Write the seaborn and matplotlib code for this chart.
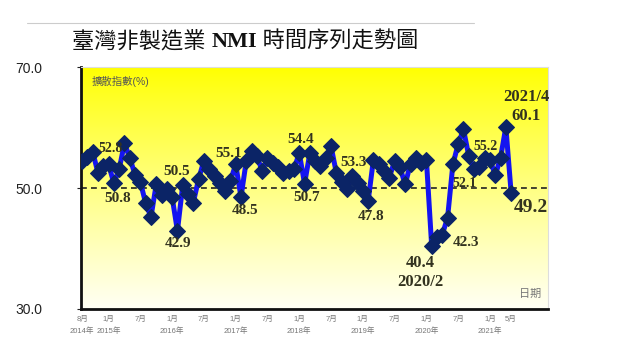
import numpy as np
import pandas as pd
import seaborn as sns
import matplotlib.pyplot as plt

# 臺灣非製造業 NMI, 2014/8 ~ 2021/5 (每月)
nmi = [54.5, 55.2, 56.0, 52.5, 53.6, 53.9, 50.8, 53.1, 57.4, 55.0,
       52.2, 51.0, 47.5, 45.2, 50.6, 48.8, 49.9, 48.5, 42.9, 50.5,
       49.0, 47.6, 51.5, 54.5, 53.2, 52.0, 50.8, 49.5, 51.2, 53.9,
       48.5, 54.5, 56.1, 55.3, 52.8, 55.0, 54.2, 53.4, 52.5, 52.8,
       53.1, 55.8, 50.7, 55.8, 54.5, 53.6, 55.0, 56.9, 52.5, 51.0,
       49.8, 52.0, 50.9, 49.5, 47.8, 54.7, 53.9, 52.8, 51.7, 54.5,
       53.4, 50.6, 54.0, 55.0, 54.2, 54.7, 40.4, 41.9, 42.3, 45.1,
       53.9, 57.3, 59.7, 55.3, 53.1, 53.5, 55.0, 54.7, 52.1, 55.0,
       60.1, 49.2]

tick_idx = [0, 5, 11, 17, 23, 29, 35, 41, 47, 53, 59, 65, 71, 77, 81]
tick_month = ['8月', '1月', '7月', '1月', '7月', '1月', '7月', '1月', '7月',
              '1月', '7月', '1月', '7月', '1月', '5月']
tick_year = ['2014年', '2015年', '', '2016年', '', '2017年', '', '2018年', '',
             '2019年', '', '2020年', '', '2021年', '']

# 標註: (月份序號, 文字, x偏移, y偏移, 字級)
notes_idx = [4, 6, 19, 18, 29, 30, 41, 42, 51, 54, 66, 66, 68, 78, 77, 80, 80, 81]
notes_txt = ['52.8', '50.8', '50.5', '42.9', '55.1', '48.5', '54.4', '50.7', '53.3',
             '47.8', '40.4', '2020/2', '42.3', '52.1', '55.2', '2021/4', '60.1', '49.2']
notes_dx = [1.4, 0.8, -1.2, 0.2, -1.4, 0.7, 0.3, 0.3, 0.2,
            0.5, -2.2, -2.2, 4.5, -5.7, -0.8, 3.8, 3.8, 3.8]
notes_dy = [3.0, -2.5, 2.3, -2.0, 1.8, -2.2, 2.2, -2.2, 2.3,
            -2.5, -2.8, -6.0, -1.3, -1.3, 2.2, 5.0, 1.8, -2.5]
notes_fs = [10, 11, 11, 11, 11, 11, 11, 11, 11,
            11, 12, 12, 11, 10, 10, 12, 12, 14]

df = pd.DataFrame({'idx': np.arange(len(nmi)), 'nmi': nmi})

sns.set_style('white')
plt.rcParams['font.family'] = ['Liberation Sans', 'Noto Sans CJK TC']

fig = plt.figure(figsize=(6.4, 3.6), dpi=100)
fig.patch.set_facecolor('white')
ax = fig.add_axes([0.1266, 0.1417, 0.73, 0.672])

# 黃色漸層背景 (上黃下白)
grad = np.linspace(0, 1, 256)
cols = np.ones((256, 1, 3))
cols[:, 0, 2] = 0.96 * grad ** 0.9
ax.imshow(cols, extent=[0, 1, 0, 1], transform=ax.transAxes,
          aspect='auto', origin='upper', zorder=0)

ax.axhline(50, color='#222222', lw=1.2, ls=(0, (3.5, 2.5)), zorder=2)

sns.lineplot(data=df, x='idx', y='nmi', ax=ax, color='#1414F0', lw=3.6,
             marker='D', markersize=8, markerfacecolor='#0B2466',
             markeredgecolor='#0B2466', zorder=3)

ax.set_xlim(-0.2, 88)
ax.set_ylim(30, 70)
ax.set_yticks([30, 50, 70])
ax.set_yticklabels(['30.0', '50.0', '70.0'], fontsize=10, color='#222222')
ax.tick_params(axis='y', length=3, pad=25, left=True, color='#222222')

ax.set_xticks(tick_idx)
ax.set_xticklabels([m + '\n' + y for m, y in zip(tick_month, tick_year)],
                   fontsize=5.5, color='#777777', linespacing=1.8)
ax.tick_params(axis='x', length=0, pad=5)
ax.set_xlabel('')
ax.set_ylabel('')

for s in ['left', 'bottom']:
    ax.spines[s].set_color('#111111')
    ax.spines[s].set_linewidth(2)
for s in ['top', 'right']:
    ax.spines[s].set_color('#dddddd')
    ax.spines[s].set_linewidth(0.8)

for i, t, dx, dy, fs in zip(notes_idx, notes_txt, notes_dx, notes_dy, notes_fs):
    ax.text(i + dx, nmi[i] + dy, t, fontsize=fs, fontweight='bold',
            family=['Liberation Serif', 'Noto Sans CJK TC'],
            color='#33331f', ha='center', va='center', zorder=4)

ax.text(0.022, 0.965, '擴散指數(%)', transform=ax.transAxes, fontsize=7.5,
        color='#555555', ha='left', va='top')
ax.text(0.985, 0.04, '日期', transform=ax.transAxes, fontsize=8,
        color='#777777', ha='right', va='bottom')

# 標題: 中文一般字重, NMI 粗體
tfam = ['Liberation Serif', 'Noto Sans CJK TC']
t1 = fig.text(0.113, 0.882, '臺灣非製造業 ', fontsize=16, family=tfam,
              color='#111111', ha='left', va='center')
t2 = fig.text(0, 0, 'NMI', fontsize=16, family=tfam, fontweight='bold',
              color='#111111', ha='left', va='center')
t3 = fig.text(0, 0, ' 時間序列走勢圖', fontsize=16, family=tfam,
              color='#111111', ha='left', va='center')
fig.canvas.draw()
r = fig.canvas.get_renderer()
b1 = t1.get_window_extent(r)
t2.set_position((b1.x1 / fig.bbox.width, 0.882))
fig.canvas.draw()
b2 = t2.get_window_extent(r)
t3.set_position((b2.x1 / fig.bbox.width, 0.882))

fig.add_artist(plt.Line2D([0.042, 0.74], [0.936, 0.936], color='#cccccc', lw=0.8))

fig.savefig('out.png', dpi=100)
